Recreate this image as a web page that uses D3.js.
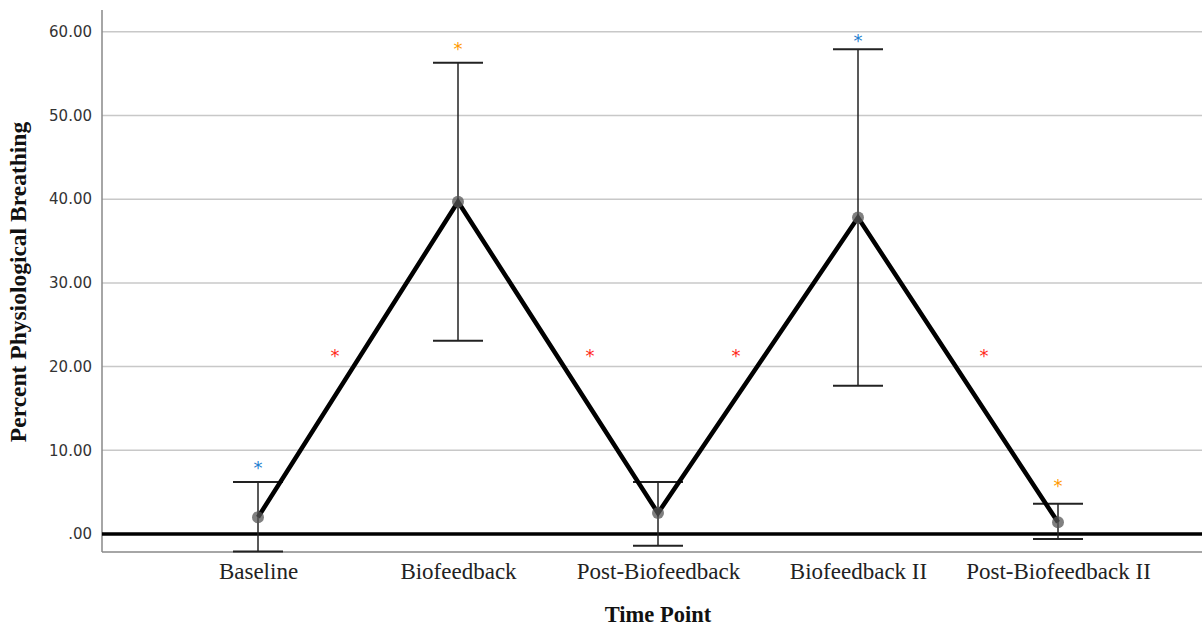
<!DOCTYPE html>
<html>
<head>
<meta charset="utf-8">
<script src="https://cdn.jsdelivr.net/npm/d3@7"></script>
<style>
  body { margin: 0; background: #fff; }
  svg { display: block; }
</style>
</head>
<body>
<svg id="chart"></svg>
<script>
// Data
const categories = ['Baseline', 'Biofeedback', 'Post-Biofeedback', 'Biofeedback II', 'Post-Biofeedback II'];
const means = [2.0, 39.7, 2.5, 37.8, 1.4];
const upper = [6.2, 56.3, 6.2, 57.9, 3.6];
const lower = [-2.1, 23.1, -1.4, 17.7, -0.6];
const yTicks = [0, 10, 20, 30, 40, 50, 60];

// significance marks above each point
const pointStarValues = [8.2, 58.3, null, 59.3, 6.1];
const pointStarColors = ['#1f7fcf', '#ff9a00', null, '#1f7fcf', '#ff9a00'];
// red marks between time points (position in category steps from the first one)
const pairStarPos = [0.385, 1.66, 2.39, 3.63];
const pairStarValues = [21.5, 21.5, 21.5, 21.5];

document.addEventListener('DOMContentLoaded', function() {
    const width = 1202;
    const height = 629;
    const left = 102, top = 10, bottom = 552, right = 1202;

    const svg = d3.select('#chart')
        .attr('width', width)
        .attr('height', height);

    const x = d3.scalePoint()
        .domain(categories)
        .range([left, 1214])
        .padding(0.78);

    const y = d3.scaleLinear()
        .domain([-2.15, 62.6])
        .range([bottom, top]);

    // Gridlines
    svg.append('g')
        .selectAll('line')
        .data(yTicks.filter(d => d !== 0))
        .enter()
        .append('line')
        .attr('x1', left)
        .attr('x2', right)
        .attr('y1', d => y(d))
        .attr('y2', d => y(d))
        .attr('stroke', '#c8c8c8')
        .attr('stroke-width', 1.5);

    // Y axis
    const yAxis = svg.append('g')
        .attr('transform', `translate(${left},0)`)
        .call(d3.axisLeft(y)
            .tickValues(yTicks)
            .tickSize(0)
            .tickPadding(10)
            .tickFormat(d => d === 0 ? '.00' : d3.format('.2f')(d)));
    yAxis.select('.domain').remove();
    yAxis.selectAll('text')
        .attr('font-family', 'DejaVu Sans, sans-serif')
        .attr('font-size', 15)
        .attr('fill', '#333');

    // Frame lines (left and bottom)
    svg.append('line')
        .attr('x1', left).attr('x2', left)
        .attr('y1', top).attr('y2', bottom)
        .attr('stroke', '#888').attr('stroke-width', 1.5);
    svg.append('line')
        .attr('x1', left).attr('x2', right)
        .attr('y1', bottom).attr('y2', bottom)
        .attr('stroke', '#888').attr('stroke-width', 1.5);

    // X axis labels
    const xAxis = svg.append('g')
        .attr('transform', `translate(0,${bottom})`)
        .call(d3.axisBottom(x).tickSize(0).tickPadding(11));
    xAxis.select('.domain').remove();
    xAxis.selectAll('text')
        .attr('font-family', 'Liberation Serif, Times New Roman, serif')
        .attr('font-size', 23)
        .attr('fill', '#222');

    // Zero reference line
    svg.append('line')
        .attr('x1', left).attr('x2', right)
        .attr('y1', y(0)).attr('y2', y(0))
        .attr('stroke', '#000').attr('stroke-width', 3.5);

    // Error bars
    const bars = svg.append('g')
        .selectAll('g')
        .data(categories)
        .enter()
        .append('g');
    const capHalf = 25;
    bars.append('line')
        .attr('x1', d => x(d)).attr('x2', d => x(d))
        .attr('y1', (d, i) => y(upper[i])).attr('y2', (d, i) => y(lower[i]))
        .attr('stroke', '#222').attr('stroke-width', 1.5);
    bars.append('line')
        .attr('x1', d => x(d) - capHalf).attr('x2', d => x(d) + capHalf)
        .attr('y1', (d, i) => y(upper[i])).attr('y2', (d, i) => y(upper[i]))
        .attr('stroke', '#222').attr('stroke-width', 2);
    bars.append('line')
        .attr('x1', d => x(d) - capHalf).attr('x2', d => x(d) + capHalf)
        .attr('y1', (d, i) => y(lower[i])).attr('y2', (d, i) => y(lower[i]))
        .attr('stroke', '#222').attr('stroke-width', 2);

    // Mean line
    const line = d3.line()
        .x(d => x(d.cat))
        .y(d => y(d.value));
    svg.append('path')
        .datum(categories.map((c, i) => ({ cat: c, value: means[i] })))
        .attr('d', line)
        .attr('fill', 'none')
        .attr('stroke', '#000')
        .attr('stroke-width', 4.5)
        .attr('stroke-linejoin', 'miter');

    // Mean points
    svg.append('g')
        .selectAll('circle')
        .data(categories)
        .enter()
        .append('circle')
        .attr('cx', d => x(d))
        .attr('cy', (d, i) => y(means[i]))
        .attr('r', 6)
        .attr('fill', '#555')
        .attr('fill-opacity', 0.75);

    // Stars above points
    svg.append('g')
        .selectAll('text')
        .data(categories.map((c, i) => ({ cat: c, value: pointStarValues[i], color: pointStarColors[i] }))
            .filter(d => d.value !== null))
        .enter()
        .append('text')
        .attr('x', d => x(d.cat))
        .attr('y', d => y(d.value) + 9)
        .attr('text-anchor', 'middle')
        .attr('font-family', 'DejaVu Sans, sans-serif')
        .attr('font-size', 18)
        .attr('fill', d => d.color)
        .text('*');

    // Red stars between time points
    const x0 = x(categories[0]);
    svg.append('g')
        .selectAll('text')
        .data(pairStarPos.map((p, i) => ({ pos: p, value: pairStarValues[i] })))
        .enter()
        .append('text')
        .attr('x', d => x0 + d.pos * x.step())
        .attr('y', d => y(d.value) + 8)
        .attr('text-anchor', 'middle')
        .attr('font-family', 'DejaVu Sans, sans-serif')
        .attr('font-size', 18)
        .attr('fill', '#ff2a1a')
        .text('*');

    // Axis titles
    svg.append('text')
        .attr('transform', `translate(26, 282) rotate(-90)`)
        .attr('text-anchor', 'middle')
        .attr('font-family', 'Liberation Serif, Times New Roman, serif')
        .attr('font-weight', 'bold')
        .attr('font-size', 23.5)
        .attr('fill', '#111')
        .text('Percent Physiological Breathing');

    svg.append('text')
        .attr('x', x(categories[2]))
        .attr('y', 622)
        .attr('text-anchor', 'middle')
        .attr('font-family', 'Liberation Serif, Times New Roman, serif')
        .attr('font-weight', 'bold')
        .attr('font-size', 22.5)
        .attr('fill', '#111')
        .text('Time Point');
});
</script>
</body>
</html>
